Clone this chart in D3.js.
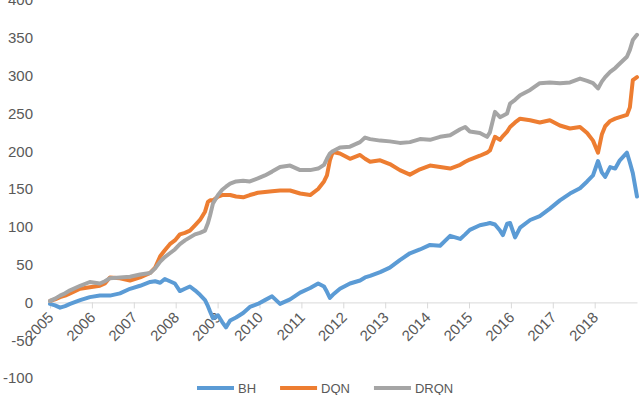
<!DOCTYPE html>
<html>
<head>
<meta charset="utf-8">
<script src="https://cdn.jsdelivr.net/npm/d3@7"></script>
<style>
  body { margin: 0; background: #fff; }
  text { font-family: "Liberation Sans", Arial, sans-serif; fill: #595959; }
</style>
</head>
<body>
<div id="chart"></div>
<script>
// fractional years of the sampled points
var years = [
  2005.00, 2005.12, 2005.24, 2005.36, 2005.48, 2005.72, 2005.95, 2006.19, 2006.31, 2006.43,
  2006.67, 2006.91, 2007.15, 2007.39, 2007.51, 2007.63, 2007.74, 2007.86, 2007.98, 2008.10,
  2008.22, 2008.34, 2008.46, 2008.58, 2008.70, 2008.77, 2008.82, 2008.89, 2009.01, 2009.11,
  2009.20, 2009.30, 2009.44, 2009.61, 2009.77, 2009.96, 2010.13, 2010.30, 2010.49, 2010.73,
  2010.97, 2011.21, 2011.40, 2011.54, 2011.61, 2011.68, 2011.75, 2011.92, 2012.16, 2012.40,
  2012.52, 2012.64, 2012.88, 2013.11, 2013.35, 2013.59, 2013.83, 2014.07, 2014.31, 2014.55,
  2014.79, 2014.91, 2015.02, 2015.26, 2015.43, 2015.50, 2015.62, 2015.74, 2015.81, 2015.91,
  2015.98, 2016.10, 2016.22, 2016.46, 2016.69, 2016.93, 2017.17, 2017.41, 2017.65, 2017.82,
  2017.96, 2018.08, 2018.17, 2018.25, 2018.37, 2018.49, 2018.60, 2018.77, 2018.84, 2018.91,
  2019.01
];

var bh = [
  -2, -4, -7, -5, -2, 3, 7, 9, 9, 9,
  12, 18, 22, 27, 28, 26, 31, 28, 25, 15,
  18, 21, 16, 10, 3, -5, -12, -21, -17, -26,
  -33, -24, -20, -14, -6, -2, 3, 8, -2, 4,
  13, 19, 25, 21, 14, 6, 10, 18, 25, 29,
  33, 35, 40, 46, 56, 65, 70, 76, 75, 88,
  84, 90, 96, 102, 104, 105, 103, 95, 89, 104,
  105, 86, 99, 109, 114, 124, 135, 144, 151, 160,
  168, 187, 172, 166, 179, 177, 188, 198, 185, 171,
  140
];

var dqn = [
  2, 4, 7, 9, 12, 18, 20, 22, 25, 33,
  32, 29, 33, 39, 46, 61, 69, 77, 82, 90,
  92, 95, 102, 109, 120, 133, 135, 135, 140, 142,
  142, 142, 140, 139, 142, 145, 146, 147, 148, 148,
  144, 142, 150, 160, 168, 188, 199, 197, 190, 195,
  190, 186, 188, 183, 175, 169, 176, 181, 179, 177,
  182, 186, 189, 194, 198, 201, 219, 215, 220, 226,
  232, 238, 243, 241, 238, 241, 234, 230, 232, 224,
  214, 198, 222, 233, 240, 243, 245, 248, 258, 294,
  298
];

var drqn = [
  2, 5, 9, 12, 16, 22, 27, 25, 28, 32,
  33, 34, 37, 39, 45, 54, 60, 65, 70, 77,
  82, 86, 90, 92, 95, 105, 115, 131, 142, 149,
  153, 157, 160, 161, 160, 164, 168, 173, 179, 181,
  175, 175, 177, 182, 190, 197, 200, 205, 206, 212,
  218, 216, 214, 213, 211, 212, 216, 215, 219, 221,
  229, 232, 226, 224, 219, 225, 252, 245, 247, 250,
  263, 268, 274, 281, 290, 291, 290, 291, 296, 293,
  290, 283, 292, 298, 305, 310, 316, 325, 334, 347,
  354
];

var seriesNames = ["BH", "DQN", "DRQN"];
var seriesColors = ["#5B9BD5", "#ED7D31", "#A5A5A5"];
var yTicks = [-100, -50, 0, 50, 100, 150, 200, 250, 300, 350, 400];
var xTicks = [2005, 2006, 2007, 2008, 2009, 2010, 2011, 2012, 2013, 2014, 2015, 2016, 2017, 2018];

var width = 640,
  height = 395;

var svg = d3
  .select("#chart")
  .append("svg")
  .attr("width", width)
  .attr("height", height);

var x = d3.scaleLinear().domain([2005, 2019.01]).range([50, 637]);
var y = d3.scaleLinear().domain([-100, 400]).range([378, 0]);

// y tick labels (no axis line)
svg
  .append("g")
  .selectAll("text")
  .data(yTicks)
  .enter()
  .append("text")
  .attr("x", 33)
  .attr("y", d => y(d))
  .attr("dy", "0.36em")
  .style("text-anchor", "end")
  .style("font-size", "15px")
  .text(d => d);

// x axis sits on the zero line
var axisX = d3
  .axisBottom(x)
  .tickValues(xTicks)
  .tickSize(6)
  .tickSizeOuter(0)
  .tickFormat(d3.format("d"));

var gx = svg
  .append("g")
  .attr("class", "x axis")
  .attr("transform", "translate(0," + y(0) + ")")
  .call(axisX);

gx.select(".domain").attr("stroke", "#D9D9D9").attr("stroke-width", 1);
gx.selectAll(".tick line").attr("stroke", "#D9D9D9");
gx
  .selectAll("text")
  .style("text-anchor", "end")
  .style("font-size", "15px")
  .attr("fill", "#595959")
  .attr("x", 0)
  .attr("y", 0)
  .attr("dy", 0)
  .attr("transform", "translate(4,16) rotate(-45)");

// lines
var line = d3
  .line()
  .x((d, i) => x(years[i]))
  .y(d => y(d));

var allSeries = [bh, dqn, drqn];

svg
  .selectAll(".series")
  .data(allSeries)
  .enter()
  .append("path")
  .attr("class", "series")
  .attr("fill", "none")
  .attr("stroke", (d, i) => seriesColors[i])
  .attr("stroke-width", 4)
  .attr("stroke-linejoin", "round")
  .attr("stroke-linecap", "round")
  .attr("d", d => line(d));

// legend
var legend = svg.append("g").attr("class", "legend");
var lx = 197;
seriesNames.forEach(function(name, i) {
  legend
    .append("line")
    .attr("x1", lx)
    .attr("x2", lx + 37)
    .attr("y1", 388)
    .attr("y2", 388)
    .attr("stroke", seriesColors[i])
    .attr("stroke-width", 4);
  var t = legend
    .append("text")
    .attr("x", lx + 41)
    .attr("y", 388)
    .attr("dy", "0.36em")
    .style("font-size", "13px")
    .text(name);
  lx = lx + 41 + t.node().getComputedTextLength() + 24;
});
</script>
</body>
</html>
